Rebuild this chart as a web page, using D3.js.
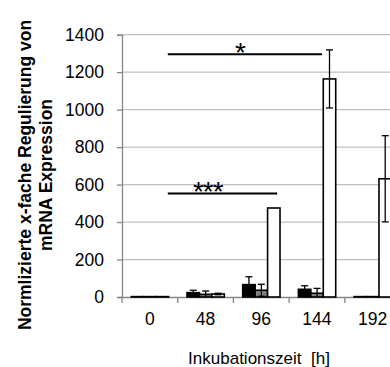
<!DOCTYPE html>
<html>
<head>
<meta charset="utf-8">
<script src="https://cdn.jsdelivr.net/npm/d3@7"></script>
<style>
  html, body { margin: 0; padding: 0; background: #fff; }
  svg { display: block; }
  text { font-family: "Liberation Sans", Arial, sans-serif; }
</style>
</head>
<body>
<svg id="chart" width="390" height="367"></svg>
<script>
// Incubation time points (hours)
const categories = ["0", "48", "96", "144", "192"];
// Three series per time point: mean and error (SD)
const seriesNames = ["A", "B", "C"];
const meansA = [2, 23, 66, 41, 2];
const errorsA = [0, 13, 42, 19, 0];
const meansB = [2, 14, 36, 20, 2];
const errorsB = [0, 18, 32, 26, 0];
const meansC = [2, 16, 475, 1164, 631];
const errorsC = [0, 4, 0, 155, 230];
const yTicks = [0, 200, 400, 600, 800, 1000, 1200, 1400];
// Significance brackets: from group, to group, bracket level, label
const sigFrom = ["0", "0"];
const sigTo = ["144", "96"];
const sigLevel = [1296, 553];
const sigLabel = ["*", "***"];

const fills = ["#000000", "#808080", "#ffffff"];
const svg = d3.select("#chart");

const plotLeft = 122, plotTop = 34.7, plotBottom = 297;
const bandStep = 55.7;
const x0 = d3.scaleBand().domain(categories)
  .range([plotLeft, plotLeft + bandStep * categories.length]).padding(0);
const x1 = d3.scaleBand().domain(seriesNames)
  .range([x0.bandwidth() * 0.167, x0.bandwidth() * 0.837]).padding(0);
const y = d3.scaleLinear().domain([0, 1400]).range([plotBottom, plotTop]);

// gridlines
svg.append("g").selectAll("line").data(yTicks.filter(d => d > 0)).join("line")
  .attr("x1", plotLeft).attr("x2", 390)
  .attr("y1", d => y(d)).attr("y2", d => y(d))
  .attr("stroke", "#bfbfbf").attr("stroke-width", 1.3);

// y axis
const yAxis = svg.append("g").attr("transform", `translate(${plotLeft},0)`)
  .call(d3.axisLeft(y).tickValues(yTicks).tickFormat(d3.format("d")).tickSize(5).tickPadding(13));
yAxis.select(".domain").attr("stroke", "#868686").attr("stroke-width", 1.3);
yAxis.selectAll(".tick line").attr("stroke", "#868686").attr("stroke-width", 1.3);
yAxis.selectAll("text").attr("font-size", "17.5px").attr("fill", "#000")
  .attr("font-family", "Liberation Sans, Arial, sans-serif");

// x axis
const xAxis = svg.append("g").attr("transform", `translate(0,${plotBottom})`)
  .call(d3.axisBottom(x0).tickSize(0).tickPadding(0));
xAxis.select(".domain").attr("stroke", "#868686").attr("stroke-width", 1.3);
xAxis.selectAll("text").attr("font-size", "17.5px").attr("fill", "#000")
  .attr("dy", null).attr("y", 28)
  .attr("font-family", "Liberation Sans, Arial, sans-serif");
// category separator ticks
xAxis.append("g").selectAll("line").data(categories).join("line")
  .attr("x1", d => x0(d)).attr("x2", d => x0(d))
  .attr("y1", 0).attr("y2", 6)
  .attr("stroke", "#868686").attr("stroke-width", 1.3);

// bars
const rows = categories.map((c, i) => ({
  cat: c,
  vals: [
    { s: "A", v: meansA[i], e: errorsA[i], f: fills[0] },
    { s: "B", v: meansB[i], e: errorsB[i], f: fills[1] },
    { s: "C", v: meansC[i], e: errorsC[i], f: fills[2] }
  ]
}));

const groups = svg.append("g").selectAll("g").data(rows).join("g")
  .attr("transform", d => `translate(${x0(d.cat)},0)`);

groups.selectAll("rect").data(d => d.vals).join("rect")
  .attr("x", d => x1(d.s))
  .attr("y", d => y(d.v))
  .attr("width", x1.bandwidth())
  .attr("height", d => y(0) - y(d.v))
  .attr("fill", d => d.f)
  .attr("stroke", "#000").attr("stroke-width", 1.6);

// error bars
const eb = groups.selectAll("g.err").data(d => d.vals.filter(v => v.e > 0)).join("g")
  .attr("class", "err");
const cap = 3.5;
eb.append("line")
  .attr("x1", d => x1(d.s) + x1.bandwidth() / 2).attr("x2", d => x1(d.s) + x1.bandwidth() / 2)
  .attr("y1", d => y(Math.max(0, d.v - d.e))).attr("y2", d => y(d.v + d.e))
  .attr("stroke", "#000").attr("stroke-width", 1.3);
eb.append("line")
  .attr("x1", d => x1(d.s) + x1.bandwidth() / 2 - cap).attr("x2", d => x1(d.s) + x1.bandwidth() / 2 + cap)
  .attr("y1", d => y(d.v + d.e)).attr("y2", d => y(d.v + d.e))
  .attr("stroke", "#000").attr("stroke-width", 1.3);
eb.filter(d => d.v - d.e > 0).append("line")
  .attr("x1", d => x1(d.s) + x1.bandwidth() / 2 - cap).attr("x2", d => x1(d.s) + x1.bandwidth() / 2 + cap)
  .attr("y1", d => y(d.v - d.e)).attr("y2", d => y(d.v - d.e))
  .attr("stroke", "#000").attr("stroke-width", 1.3);

// significance brackets
const sig = sigLabel.map((l, i) => ({ from: sigFrom[i], to: sigTo[i], level: sigLevel[i], label: l }));
const endFrac = { "144": 0.592, "96": 0.785 };
const sg = svg.append("g");
sig.forEach(s => {
  const xa = x0(s.from) + x0.bandwidth() * 0.822;
  const xb = x0(s.to) + x0.bandwidth() * endFrac[s.to];
  sg.append("line").attr("x1", xa).attr("x2", xb)
    .attr("y1", y(s.level)).attr("y2", y(s.level))
    .attr("stroke", "#000").attr("stroke-width", 2);
  sg.append("text").attr("x", s.label.length > 1 ? xa + 40 : (xa + xb) / 2 - 5)
    .attr("y", y(s.level) + 8)
    .attr("text-anchor", "middle")
    .attr("font-family", "DejaVu Sans, sans-serif")
    .attr("font-size", "28px")
    .attr("letter-spacing", "-1px")
    .text(s.label);
});

// axis titles
const yTitle = svg.append("text")
  .attr("transform", "translate(0,175) rotate(-90)")
  .attr("text-anchor", "middle")
  .attr("font-weight", "bold").attr("font-size", "17.5px");
yTitle.append("tspan").attr("x", 0).attr("y", 30.5).text("Normlizierte x-fache Regulierung von");
yTitle.append("tspan").attr("x", 0).attr("y", 51.5).text("mRNA Expression");

svg.append("text")
  .attr("x", 259).attr("y", 364)
  .attr("text-anchor", "middle")
  .attr("font-size", "17px")
  .attr("xml:space", "preserve")
  .text("Inkubationszeit  [h]");
</script>
</body>
</html>
